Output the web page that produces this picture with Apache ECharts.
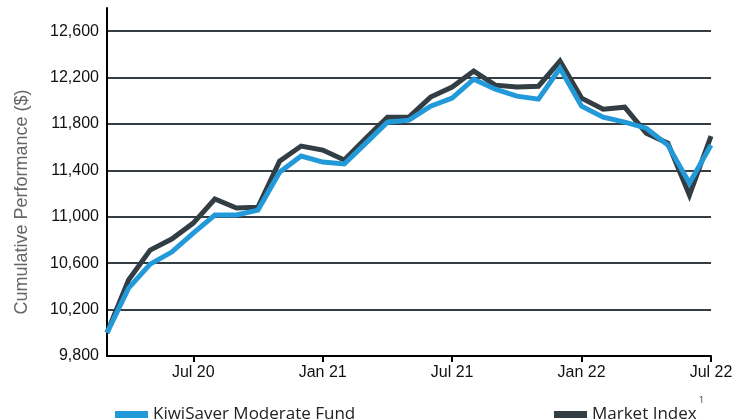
<!DOCTYPE html>
<html>
<head>
<meta charset="utf-8">
<script src="https://cdn.jsdelivr.net/npm/echarts@6/dist/echarts.min.js"></script>
<style>
html,body{margin:0;padding:0;background:#fff;}
#c{width:748px;height:419px;}
</style>
</head>
<body>
<div id="c"></div>
<script>
const months = ['Mar 20','Apr 20','May 20','Jun 20','Jul 20','Aug 20','Sep 20','Oct 20','Nov 20','Dec 20','Jan 21','Feb 21','Mar 21','Apr 21','May 21','Jun 21','Jul 21','Aug 21','Sep 21','Oct 21','Nov 21','Dec 21','Jan 22','Feb 22','Mar 22','Apr 22','May 22','Jun 22','Jul 22'];
const fundValues = [10000,10385,10592,10696,10860,11015,11015,11058,11385,11524,11472,11455,11635,11816,11833,11954,12023,12186,12100,12040,12014,12281,11954,11859,11816,11764,11618,11290,11618];
const indexValues = [10000,10455,10713,10808,10946,11153,11075,11083,11480,11610,11575,11489,11678,11859,11859,12032,12118,12256,12135,12118,12126,12342,12023,11928,11945,11721,11635,11187,11696];
const shownTicks = ['Jul 20','Jan 21','Jul 21','Jan 22','Jul 22'];
const fundName = 'KiwiSaver Moderate Fund';
const indexName = 'Market Index';

const chart = echarts.init(document.getElementById('c'));
const isShown = (i, v) => shownTicks.indexOf(v) >= 0;
const gridColor = '#353c42';
chart.setOption({
  animation: false,
  title: {
    text: '1', left: 694, top: 391,
    textStyle: {fontSize: 9, fontWeight: 'normal', color: '#333', fontFamily: 'Open Sans'}
  },
  legend: [
    {
      data: [fundName], left: 110, top: 401, itemWidth: 33, itemHeight: 7, icon: 'rect', itemGap: 8,
      textStyle: {fontSize: 17, color: '#222', fontFamily: 'Open Sans'}
    },
    {
      data: [indexName], left: 549, top: 401, itemWidth: 33, itemHeight: 7, icon: 'rect',
      textStyle: {fontSize: 17, color: '#222', fontFamily: 'Open Sans'}
    }
  ],
  grid: {left: 107, right: 37, top: 8, bottom: 63, containLabel: false},
  xAxis: {
    type: 'category', data: months, boundaryGap: false,
    axisLine: {lineStyle: {color: '#000', width: 2}},
    axisTick: {show: true, interval: isShown, length: 6, lineStyle: {color: '#000', width: 2}},
    axisLabel: {interval: isShown, color: '#111', fontSize: 16, margin: 9, fontFamily: 'Liberation Sans'},
    splitLine: {show: false}
  },
  yAxis: {
    type: 'value', min: 9800, max: 12800, interval: 400,
    name: 'Cumulative Performance ($)', nameLocation: 'middle', nameRotate: 90, nameGap: 76,
    nameTextStyle: {color: '#666', fontSize: 18, fontFamily: 'Liberation Sans', padding: [0, 40, 0, 0]},
    axisLine: {show: true, lineStyle: {color: '#000', width: 2}},
    axisTick: {show: false},
    axisLabel: {
      color: '#111', fontSize: 16, margin: 8, fontFamily: 'Liberation Sans',
      formatter: v => v > 12600 ? '' : v.toLocaleString('en-US')
    },
    splitLine: {show: true, lineStyle: {width: 2, color: [gridColor,gridColor,gridColor,gridColor,gridColor,gridColor,gridColor,gridColor,'transparent']}}
  },
  series: [
    {
      name: indexName, type: 'line', data: indexValues, showSymbol: false, symbol: 'none',
      color: '#333d44',
      lineStyle: {color: '#333d44', width: 5, join: 'miter'}, z: 2
    },
    {
      name: fundName, type: 'line', data: fundValues, showSymbol: false, symbol: 'none',
      color: '#2299d8',
      lineStyle: {color: '#2299d8', width: 5, join: 'miter'}, z: 3
    }
  ]
});
</script>
</body>
</html>
